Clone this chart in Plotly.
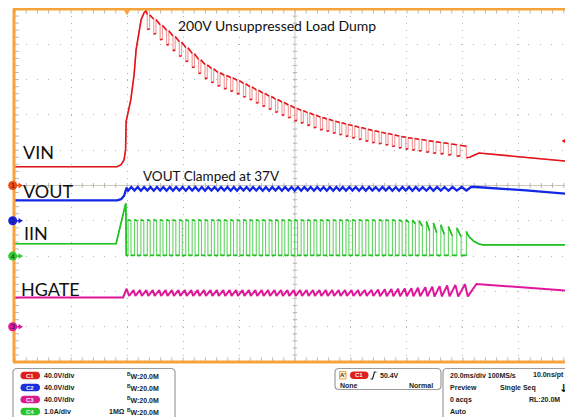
import plotly.graph_objects as go

# ---------------- data ----------------
# time in ms (trigger = 0, 20 ms/div); values in V or A
T_MIN, T_MAX = -40.0, 159.29

pulse_t = [0.39, 2.68, 4.97, 7.26, 9.55, 11.84, 14.13, 16.41, 18.70, 20.99,
           23.28, 25.57, 27.86, 30.15, 32.44, 34.73, 37.02, 39.30, 41.59, 43.88,
           46.17, 48.46, 50.75, 53.04, 55.33, 57.62, 59.90, 62.19, 64.48, 66.77,
           69.06, 71.35, 73.64, 75.93, 78.22, 80.51, 82.89, 85.29, 87.64, 90.04,
           92.43, 94.79, 97.18, 99.57, 101.93, 104.32, 106.93, 109.43, 112.07, 114.79,
           117.79, 121.21]
last_period = 3.4

# VIN (ch1, 40 V/div)
vin_rise_t = [-40.0, -3.54, -2.11, -1.04, -0.50, -0.32, 1.36, 2.54, 3.25, 4.32, 5.04, 6.11, 6.82]
vin_rise_v = [21.3, 21.3, 23.6, 29.2, 40.6, 72.3, 97.2, 125.6, 153.9, 176.5, 187.8, 195.8, 198.1]
vin_first_pulse = 3
vin_hi = [193.8, 188.6, 182.1, 175.8, 169.3, 162.9, 156.5, 149.7, 142.9, 137.1,
          132.7, 128.2, 125.0, 122.3, 119.3, 115.7, 112.1, 108.4, 104.8, 101.3,
          97.9, 94.6, 91.2, 87.8, 85.2, 82.6, 80.0, 77.5, 75.5, 73.3,
          71.4, 69.6, 67.9, 66.1, 64.2, 62.4, 60.8, 59.3, 57.7, 56.0,
          54.6, 53.6, 52.5, 51.2, 50.0, 48.8, 47.5, 46.1, 44.4]
vin_dip = [17, 17, 17, 16.5, 16.5, 16.5, 16, 16, 16, 16,
           16, 15.5, 15.5, 15.5, 15.5, 15.5, 15, 15, 15, 15,
           15, 15, 14.5, 14.5, 14.5, 14.5, 14.5, 14.5, 14, 14,
           14, 14, 14, 14, 14, 14, 13.5, 13.5, 13.5, 13.5,
           13.5, 13.5, 13.5, 13.5, 13.5, 13, 13, 13, 13]
vin_tail_t = [125.7, 142.0, 159.29]
vin_tail_v = [36.8, 31.9, 26.9]

# VOUT (ch2, 40 V/div)
vout_pre_t = [-40.0, -3.54, -2.11, -1.04, -0.14]
vout_pre_v = [23.1, 23.1, 24.5, 28.4, 37.5]
vout_hi = [38.4, 38.2, 38.3, 38.4, 38.2, 38.3, 38.3, 38.4, 38.2, 38.3,
           38.3, 38.2, 38.4, 38.3, 38.3, 38.2, 38.3, 38.4, 38.3, 38.2,
           38.3, 38.3, 38.4, 38.2, 38.3, 38.3, 38.2, 38.4, 38.3, 38.3,
           38.2, 38.3, 38.4, 38.3, 38.2, 38.3, 38.3, 38.4, 38.2, 38.3,
           38.3, 38.2, 38.4, 38.3, 38.3, 38.2, 38.3, 38.4, 38.3, 38.2,
           38.3, 38.3]
vout_lo = [34.1, 34.2, 34.0, 34.2, 34.1, 34.2, 34.1, 34.0, 34.2, 34.1,
           34.2, 34.1, 34.0, 34.2, 34.1, 34.2, 34.1, 34.0, 34.2, 34.1,
           34.2, 34.1, 34.0, 34.2, 34.1, 34.2, 34.1, 34.0, 34.2, 34.1,
           34.2, 34.1, 34.0, 34.2, 34.1, 34.2, 34.1, 34.0, 34.2, 34.1,
           34.2, 34.1, 34.0, 34.2, 34.1, 34.2, 34.1, 34.0, 34.2, 34.1,
           34.2, 34.3]
vout_tail_t = [124.6, 142.5, 159.29]
vout_tail_v = [38.3, 34.4, 30.0]

# IIN (ch4, 1 A/div)
iin_pre_t = [-40.0, -3.9, -0.43, -0.25]
iin_pre_v = [0.35, 0.35, 1.50, 0.02]
iin_low = 0.02
iin_top = [1.03, 1.03, 1.03, 1.03, 1.03, 1.03, 1.03, 1.03, 1.03, 1.03,
           1.03, 1.03, 1.03, 1.03, 1.03, 1.03, 1.03, 1.03, 1.03, 1.03,
           1.03, 1.03, 1.03, 1.03, 1.03, 1.03, 1.03, 1.03, 1.03, 1.03,
           1.03, 1.03, 1.03, 1.03, 1.03, 1.03, 1.03, 1.03, 1.03, 1.03,
           1.03, 1.03, 1.03, 1.03, 1.02, 1.00, 0.98, 0.94, 0.89, 0.84,
           0.80, 0.70]
iin_top_end = [1.00, 1.00, 1.00, 1.00, 1.00, 1.00, 1.00, 1.00, 1.00, 1.00,
               1.00, 1.00, 1.00, 1.00, 1.00, 1.00, 1.00, 1.00, 1.00, 1.00,
               1.00, 1.00, 1.00, 1.00, 1.00, 1.00, 1.00, 1.00, 1.00, 1.00,
               1.00, 1.00, 1.00, 1.00, 1.00, 1.00, 1.00, 1.00, 1.00, 1.00,
               1.00, 1.00, 0.98, 0.96, 0.92, 0.85, 0.72, 0.66, 0.62, 0.58,
               0.55, 0.70]
iin_tail_t = [121.6, 122.5, 123.9, 125.5, 127.0, 159.29]
iin_tail_v = [0.62, 0.52, 0.42, 0.35, 0.32, 0.32]

# HGATE (ch3, 40 V/div)
hg_pre_t = [-40.0, -1.4, -0.14]
hg_pre_v = [33.2, 33.2, 43.0]
hg_peak = [41.5, 41.5, 41.5, 41.5, 41.5, 41.5, 41.5, 41.5, 41.5, 41.5,
           41.5, 41.5, 41.5, 41.5, 41.5, 41.5, 41.5, 41.5, 41.5, 41.5,
           41.5, 41.5, 41.5, 41.5, 41.5, 41.5, 41.5, 41.5, 41.5, 41.5,
           41.5, 41.5, 41.5, 41.5, 41.5, 41.5, 41.5, 41.5, 41.8, 42.0,
           42.3, 42.6, 43.0, 43.3, 43.7, 44.2, 44.8, 45.4, 46.0, 46.7,
           47.4, 48.0]
hg_trough = [35.0, 35.0, 35.0, 35.0, 35.0, 35.0, 35.0, 35.0, 35.0, 35.0,
             35.0, 35.0, 35.0, 35.0, 35.0, 35.0, 35.0, 35.0, 35.0, 35.0,
             35.0, 35.0, 35.0, 35.0, 35.0, 35.0, 35.0, 35.0, 35.0, 35.0,
             35.0, 35.0, 35.0, 35.0, 35.0, 35.0, 35.0, 35.0, 34.8, 34.7,
             34.6, 34.6, 34.5, 34.5, 34.4, 34.4, 34.4, 34.3, 34.3, 34.3,
             34.3, 34.3]
hg_tail_t = [124.8, 159.29]
hg_tail_v = [48.4, 40.3]

trigger_level_v = 50.4

ch_offset = {"VIN": 0.0, "VOUT": -1.0, "IIN": -2.0, "HGATE": -4.0}
ch_scale = {"VIN": 40.0, "VOUT": 40.0, "IIN": 1.0, "HGATE": 40.0}

channel_rows = [("C1", "#e0201c", "40.0V/div", ""), ("C2", "#1f2fd8", "40.0V/div", ""),
                ("C3", "#d81b8e", "40.0V/div", ""), ("C4", "#2cc52c", "1.0A/div", "1MΩ")]

# ---------------- helpers ----------------
N = len(pulse_t)


def period(k):
    return pulse_t[k + 1] - pulse_t[k] if k + 1 < N else last_period


def to_div(vals, ch):
    return [None if v is None else ch_offset[ch] + v / ch_scale[ch] for v in vals]


# VIN polyline (light = full, dark = flat parts)
vx, vy = list(vin_rise_t), list(vin_rise_v)
dvx, dvy = list(vin_rise_t), list(vin_rise_v)
for i, k in enumerate(range(vin_first_pulse, N)):
    t, p = pulse_t[k], period(k)
    hi = vin_hi[i]
    lo = hi - vin_dip[i]
    t2 = t + 0.35 * p
    vx += [t, t, t2]
    vy += [hi, lo, lo + 0.6]
    dvx += [t, None, t, t2]
    dvy += [hi, None, lo, lo + 0.6]
    if k < N - 1:
        vx.append(t2)
        vy.append(hi - 0.4)
        dvx += [None, t2]
        dvy += [None, hi - 0.4]
vx += vin_tail_t
vy += vin_tail_v
dvx += vin_tail_t
dvy += vin_tail_v

# IIN polyline
ix, iy = list(iin_pre_t), list(iin_pre_v)
dix, diy = list(iin_pre_t), list(iin_pre_v)
for k in range(N):
    t, p = pulse_t[k], period(k)
    if k < N - 1:
        t2 = t + 0.45 * p
        ix += [t, t, t2, t2]
        iy += [iin_low, iin_top[k], iin_top_end[k], iin_low]
        dix += [t, None, t, t2, None, t2]
        diy += [iin_low, None, iin_top[k], iin_top_end[k], None, iin_low]
    else:
        ix += [t, t]
        iy += [iin_low, iin_top[k]]
        dix += [t, None, t]
        diy += [iin_low, None, iin_top[k]]
ix += iin_tail_t
iy += iin_tail_v
dix += iin_tail_t
diy += iin_tail_v

# VOUT polyline
ox, oy = list(vout_pre_t), list(vout_pre_v)
for k in range(N):
    t, p = pulse_t[k], period(k)
    ox += [t, t + 0.5 * p]
    oy += [vout_lo[k], vout_hi[k]]
ox += vout_tail_t
oy += vout_tail_v

# HGATE polyline
hx, hy = list(hg_pre_t), list(hg_pre_v)
for k in range(N):
    t, p = pulse_t[k], period(k)
    hx += [t - 0.15 * p, t + 0.15 * p]
    hy += [hg_peak[k], hg_trough[k]]
hx += hg_tail_t
hy += hg_tail_v

fig = go.Figure()

# graticule ticks
GRID_C = "#bdb8ae"
gx, gy = [], []
i = 0
while T_MIN + 4 * i <= T_MAX:
    tt = T_MIN + 4 * i
    gx += [tt, tt, None, tt, tt, None, tt, tt, None]
    gy += [5, 4.87, None, -5, -4.87, None, -0.07, 0.07, None]
    i += 1
for j in range(51):
    yy = -5 + 0.2 * j
    gx += [T_MIN, T_MIN + 1.4, None, 60 - 0.8, 60 + 0.8, None]
    gy += [yy, yy, None, yy, yy, None]
fig.add_trace(go.Scatter(x=gx, y=gy, mode="lines", line=dict(color=GRID_C, width=1),
                         hoverinfo="skip", showlegend=False))

common = dict(mode="lines", hoverinfo="skip", showlegend=False)
fig.add_trace(go.Scatter(x=vx, y=to_div(vy, "VIN"), line=dict(color="#f2a0a0", width=1.2), **common))
fig.add_trace(go.Scatter(x=dvx, y=to_div(dvy, "VIN"), line=dict(color="#e3141a", width=1.6), **common))
fig.add_trace(go.Scatter(x=ox, y=to_div(oy, "VOUT"), line=dict(color="#1228e6", width=2.3), **common))
fig.add_trace(go.Scatter(x=ix, y=to_div(iy, "IIN"), line=dict(color="#62d462", width=1.1), **common))
fig.add_trace(go.Scatter(x=dix, y=to_div(diy, "IIN"), line=dict(color="#1fc01f", width=1.7), **common))
fig.add_trace(go.Scatter(x=hx, y=to_div(hy, "HGATE"), line=dict(color="#e0179a", width=2.0), **common))

# ---------------- layout decorations ----------------
# page coordinates of the plot area (the browser adds an 8 px body margin)
BODY = 8
L, PW, T, PH = 15, 558, 9, 353
FIG_W, FIG_H = 573 - BODY, 417 - BODY


def px(x):
    return (x - L) / PW


def py(y):
    return (T + PH - y) / PH


def rrect(x0, y0, x1, y1, r):
    rx, ry = r / PW, r / PH
    a, b, c, d = px(x0), py(y0), px(x1), py(y1)
    return (f"M{a+rx},{b} L{c-rx},{b} Q{c},{b} {c},{b-ry} L{c},{d+ry} Q{c},{d} {c-rx},{d} "
            f"L{a+rx},{d} Q{a},{d} {a},{d+ry} L{a},{b-ry} Q{a},{b} {a+rx},{b} Z")


shapes = []
ORANGE = "#f6a43a"
# centre cross lines
shapes.append(dict(type="line", xref="x", yref="y", x0=60, x1=60, y0=-5, y1=5,
                   line=dict(color="#cfcac0", width=1), layer="below"))
shapes.append(dict(type="line", xref="x", yref="y", x0=T_MIN, x1=T_MAX, y0=0, y1=0,
                   line=dict(color="#cfcac0", width=1), layer="below"))
# orange borders
shapes.append(dict(type="line", xref="paper", yref="paper", x0=px(13), x1=1, y0=1, y1=1,
                   line=dict(color=ORANGE, width=3)))
shapes.append(dict(type="line", xref="paper", yref="paper", x0=px(13), x1=1, y0=0, y1=0,
                   line=dict(color=ORANGE, width=3)))
shapes.append(dict(type="line", xref="paper", yref="paper", x0=px(14), x1=px(14), y0=0, y1=1,
                   line=dict(color=ORANGE, width=3)))
# trigger position marker
shapes.append(dict(type="path", xref="paper", yref="paper",
                   path=f"M{px(123.5)},{py(9)} L{px(130.5)},{py(9)} L{px(127)},{py(15.5)} Z",
                   fillcolor=ORANGE, line=dict(width=0)))
# trigger level arrow (ch1)
lvl = ch_offset["VIN"] + trigger_level_v / ch_scale["VIN"]
shapes.append(dict(type="line", xref="x", yref="y", x0=156.2, x1=159.29, y0=lvl, y1=lvl,
                   line=dict(color="#e3141a", width=1.2)))
shapes.append(dict(type="path", xref="x", yref="y",
                   path=f"M155.2,{lvl} L156.8,{lvl+0.075} L156.8,{lvl-0.075} Z",
                   fillcolor="#e3141a", line=dict(width=0)))

annotations = []
# channel ground markers
for ch, col, num in [("VIN", "#f24a14", "1"), ("VOUT", "#1a22d8", "2"),
                     ("IIN", "#33cc33", "4"), ("HGATE", "#e0179a", "3")]:
    yc = T + PH / 2 - ch_offset[ch] * PH / 10
    shapes.append(dict(type="circle", xref="paper", yref="paper", x0=px(8.2), x1=px(17.2),
                       y0=py(yc + 4.5), y1=py(yc - 4.5), fillcolor=col, line=dict(width=0)))
    shapes.append(dict(type="path", xref="paper", yref="paper",
                       path=f"M{px(18.5)},{py(yc-2.8)} L{px(23)},{py(yc)} L{px(18.5)},{py(yc+2.8)} Z",
                       fillcolor=col, line=dict(width=0)))
    shapes.append(dict(type="line", xref="paper", yref="paper", x0=px(16.5), x1=px(19),
                       y0=py(yc), y1=py(yc), line=dict(color=col, width=1.5)))
    annotations.append(dict(xref="paper", yref="paper", x=px(12.7), y=py(yc), text=num,
                            showarrow=False, xanchor="center", yanchor="middle",
                            font=dict(family="Liberation Sans", size=7, color="#222")))

LBL = dict(family="Lato", color="#111111")
for txt, x, y, s in [("VIN", 21, 151.5, 18), ("VOUT", 21, 191, 18), ("IIN", 22, 233.5, 18),
                     ("HGATE", 19, 288.5, 18), ("200V Unsuppressed Load Dump", 176, 25, 14),
                     ("VOUT Clamped at 37V", 141, 175.5, 13.5)]:
    annotations.append(dict(xref="paper", yref="paper", x=px(x), y=py(y), text=txt,
                            showarrow=False, xanchor="left", yanchor="middle",
                            font=dict(size=s, **LBL)))

# bottom info panel
BOX = dict(color="#9c9c9c", width=1.2)
shapes.append(dict(type="path", xref="paper", yref="paper", path=rrect(13, 368.5, 175, 432, 4),
                   fillcolor="white", line=BOX))
shapes.append(dict(type="path", xref="paper", yref="paper", path=rrect(335, 368.5, 441, 389.5, 4),
                   fillcolor="white", line=BOX))
shapes.append(dict(type="path", xref="paper", yref="paper", path=rrect(443, 368.5, 590, 432, 4),
                   fillcolor="white", line=BOX))

SF = dict(family="Liberation Sans", size=7, color="#222222")
row_y = [375.5, 387.5, 399.5, 411.5]
for (cname, col, vdiv, imp), yr in zip(channel_rows, row_y):
    shapes.append(dict(type="path", xref="paper", yref="paper", path=rrect(20.5, yr - 3.8, 40, yr + 3.8, 3.8),
                       fillcolor=col, line=dict(width=0)))
    annotations.append(dict(xref="paper", yref="paper", x=px(30.2), y=py(yr), text=f"<b>{cname}</b>",
                            showarrow=False, xanchor="center", yanchor="middle",
                            font=dict(family="Liberation Sans", size=6, color="#f4f4f4")))
    annotations.append(dict(xref="paper", yref="paper", x=px(42), y=py(yr), text=f"<b>{vdiv}</b>",
                            showarrow=False, xanchor="left", yanchor="middle", font=SF))
    annotations.append(dict(xref="paper", yref="paper", x=px(125), y=py(yr), text="<b><sup>B</sup>W:20.0M</b>",
                            showarrow=False, xanchor="left", yanchor="middle", font=SF))
    if imp:
        annotations.append(dict(xref="paper", yref="paper", x=px(106.5), y=py(yr), text=f"<b>{imp}</b>",
                                showarrow=False, xanchor="left", yanchor="middle", font=SF))

# trigger box
shapes.append(dict(type="rect", xref="paper", yref="paper", x0=px(339.5), x1=px(346), y0=py(379), y1=py(371.5),
                   fillcolor="#fff3dc", line=dict(color=ORANGE, width=1)))
annotations.append(dict(xref="paper", yref="paper", x=px(342.8), y=py(375.3), text="<b>A'</b>",
                        showarrow=False, xanchor="center", yanchor="middle",
                        font=dict(family="Liberation Sans", size=6, color="#333")))
shapes.append(dict(type="path", xref="paper", yref="paper", path=rrect(350, 371.5, 368.5, 379, 3.7),
                   fillcolor="#e0201c", line=dict(width=0)))
annotations.append(dict(xref="paper", yref="paper", x=px(359.2), y=py(375.3), text="<b>C1</b>",
                        showarrow=False, xanchor="center", yanchor="middle",
                        font=dict(family="Liberation Sans", size=6, color="#f4f4f4")))
shapes.append(dict(type="path", xref="paper", yref="paper",
                   path=f"M{px(370.5)},{py(379)} L{px(372.5)},{py(379)} L{px(374.5)},{py(372)} L{px(376.5)},{py(372)}",
                   line=dict(color="#222", width=1.2)))
for txt, x, y in [("50.4V", 378, 375.3), ("None", 337.5, 385.5), ("Normal", 406.5, 385.5),
                  ("20.0ms/div 100MS/s", 448, 375.3), ("10.0ns/pt", 531, 375.3),
                  ("Preview", 448, 387.5), ("Single Seq", 498, 387.5),
                  ("0 acqs", 448, 399.5), ("RL:20.0M", 526.5, 399.5), ("Auto", 448, 411.5)]:
    annotations.append(dict(xref="paper", yref="paper", x=px(x), y=py(y), text=f"<b>{txt}</b>",
                            showarrow=False, xanchor="left", yanchor="middle", font=SF))
annotations.append(dict(xref="paper", yref="paper", x=px(563), y=py(389), text="<b>↓</b>",
                        showarrow=False, xanchor="center", yanchor="middle",
                        font=dict(family="DejaVu Sans", size=11, color="#111")))

fig.update_layout(
    width=FIG_W, height=FIG_H,
    margin=dict(l=L - BODY, r=FIG_W - (L - BODY) - PW, t=T - BODY, b=FIG_H - (T - BODY) - PH),
    paper_bgcolor="white", plot_bgcolor="white",
    showlegend=False, hovermode=False,
    shapes=shapes, annotations=annotations,
    xaxis=dict(range=[T_MIN, T_MAX], tick0=T_MIN, dtick=20, showgrid=True,
               gridcolor="#b4b4b4", griddash="1px,6.06px", gridwidth=1,
               showticklabels=False, ticks="", zeroline=False, showline=False, fixedrange=True),
    yaxis=dict(range=[-5, 5], tick0=-5, dtick=1, showgrid=True,
               gridcolor="#b4b4b4", griddash="1px,10.16px", gridwidth=1,
               showticklabels=False, ticks="", zeroline=False, showline=False, fixedrange=True),
)

fig.write_html("out.html")
